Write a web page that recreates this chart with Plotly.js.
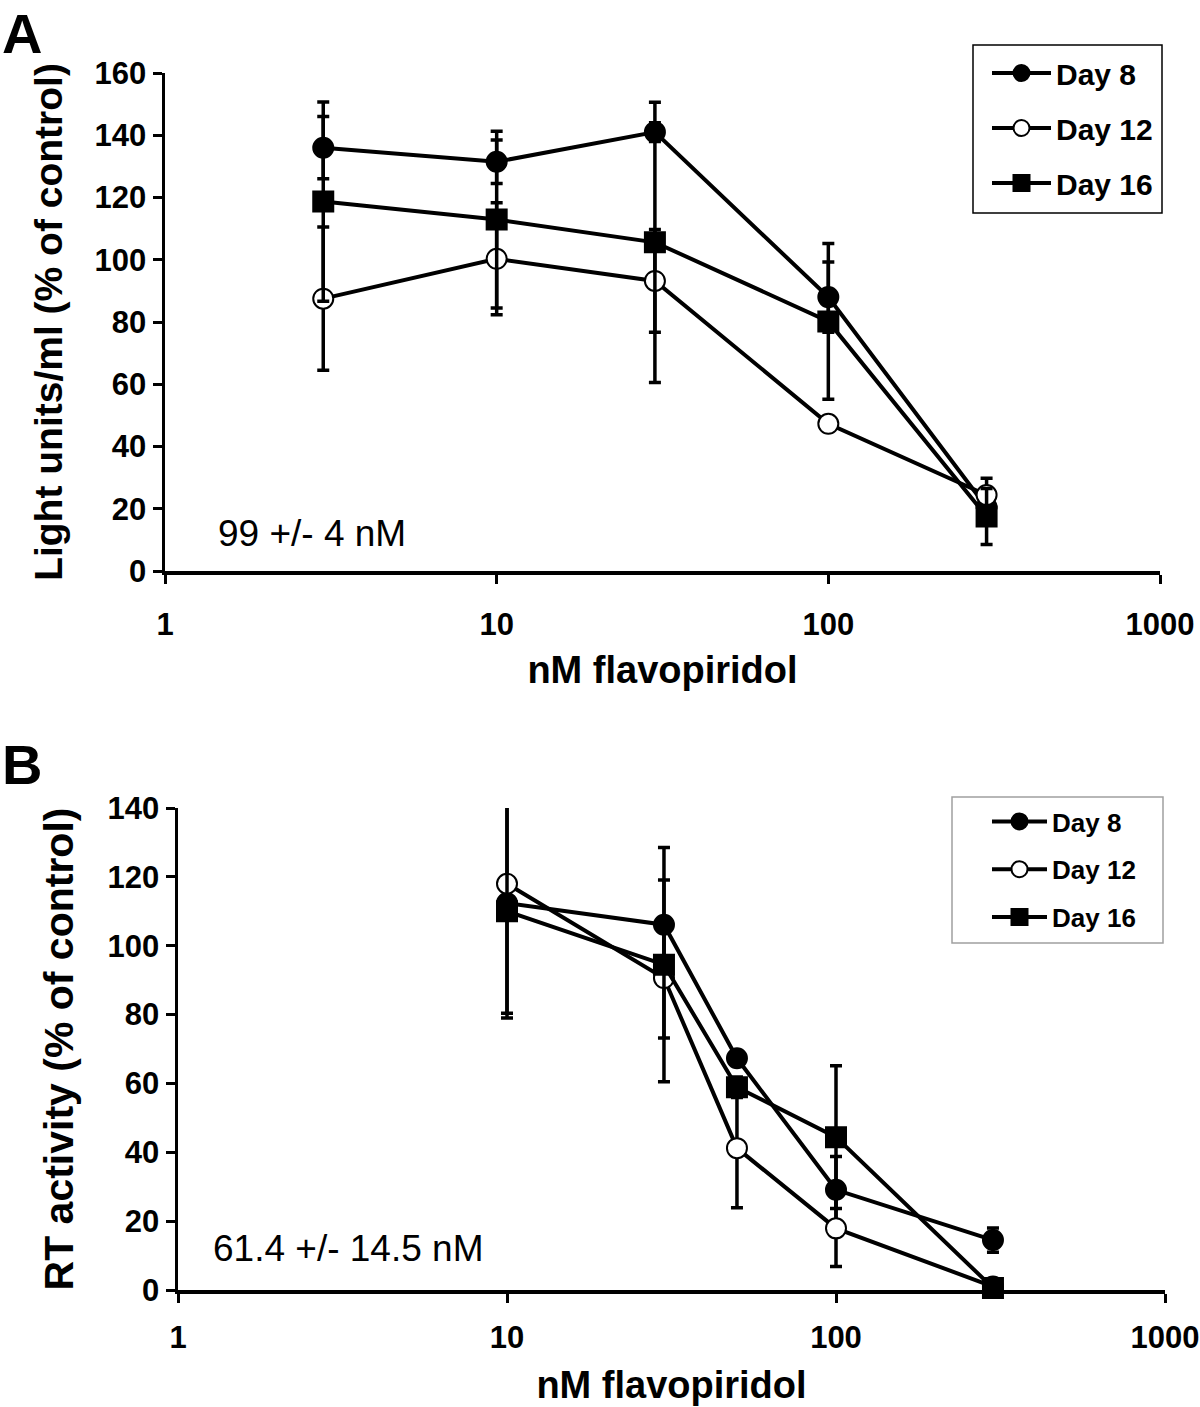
<!DOCTYPE html>
<html>
<head>
<meta charset="utf-8">
<script src="https://cdn.plot.ly/plotly-3.0.1.min.js"></script>
<style>html,body{margin:0;padding:0;background:#fff;}#chart{width:1200px;height:1407px;}</style>
</head>
<body>
<div id="chart"></div>
<script>
// ---------- Panel A: Light units/ml ----------
var doseA = [3, 10, 30, 100, 300];
var day8A = [136, 131.5, 141, 88, 20.5];
var day8AErr = [10, 7, 3, 11.3, 4];
var day12A = [87.5, 100.3, 93.2, 47.3, 24.4];
var day12AErr = [23, 18, 16.5, 2, 5.4];
var day16A = [118.7, 112.9, 105.6, 80.2, 17.5];
var day16AErr = [32, 28.4, 45, 25, 9];

// ---------- Panel B: RT activity ----------
var doseB = [10, 30, 50, 100, 300];
var day8B = [112.4, 106.1, 67.3, 29.1, 14.5];
var day8BErr = [32, 13, 2, 9.7, 3.5];
var day12B = [118, 90.6, 41.2, 17.9, 1];
var day12BErr = [2, 17.4, 17.3, 11.1, 0.5];
var day16B = [110, 94.5, 58.9, 44.4, 0.6];
var day16BErr = [31, 34, 3, 20.7, 0.5];

var seriesNames = ['Day 8', 'Day 12', 'Day 16'];
var xTickVals = [1, 10, 100, 1000];
var xTickText = ['1', '10', '100', '1000'];
var xTitle = 'nM flavopiridol';
var yTitleA = 'Light units/ml (% of control)';
var yTitleB = 'RT activity (% of control)';
var noteA = '99 +/- 4 nM';
var noteB = '61.4 +/- 14.5 nM';

var FONT = 'Liberation Sans, Arial, sans-serif';

function mk(sym, fill) {
  return {symbol: sym, size: 20, color: fill, line: {color: '#000', width: 2}};
}
var markerStyles = [mk('circle', '#000'), mk('circle', '#fff'), mk('square', '#000')];

function trace(x, y, err, i, xa, ya, leg, grp) {
  return {
    type: 'scatter', mode: 'lines+markers',
    x: x, y: y, name: seriesNames[i],
    xaxis: xa, yaxis: ya, legend: leg, legendgroup: grp + i,
    line: {color: '#000', width: 4},
    marker: markerStyles[i],
    error_y: {type: 'data', array: err, visible: true, color: '#000', thickness: 3.5, width: 6},
    cliponaxis: false
  };
}

var data = [
  trace(doseA, day8A, day8AErr, 0, 'x', 'y', 'legend', 'a'),
  trace(doseA, day12A, day12AErr, 1, 'x', 'y', 'legend', 'a'),
  trace(doseA, day16A, day16AErr, 2, 'x', 'y', 'legend', 'a'),
  trace(doseB, day8B, day8BErr, 0, 'x2', 'y2', 'legend2', 'b'),
  trace(doseB, day12B, day12BErr, 1, 'x2', 'y2', 'legend2', 'b'),
  trace(doseB, day16B, day16BErr, 2, 'x2', 'y2', 'legend2', 'b')
];

function xAxis(domain, anchor, lblGap, titleGap) {
  return {
    domain: domain, anchor: anchor, type: 'log', range: [0, 3],
    tickvals: xTickVals, ticktext: xTickText,
    showline: true, linecolor: '#000', linewidth: 4,
    ticks: 'outside', ticklen: 9, tickwidth: 3, tickcolor: '#000',
    showgrid: false, zeroline: false,
    tickfont: {family: FONT, size: 31, color: '#000', weight: 'bold'},
    ticklabelstandoff: lblGap,
    title: {text: xTitle, font: {family: FONT, size: 38, color: '#000', weight: 'bold'}, standoff: titleGap}
  };
}
function yAxis(domain, anchor, maxV, title, titleSize, titleGap) {
  return {
    domain: domain, anchor: anchor, range: [0, maxV], tick0: 0, dtick: 20,
    showline: true, linecolor: '#000', linewidth: 3.5,
    ticks: 'outside', ticklen: 9, tickwidth: 3, tickcolor: '#000',
    showgrid: false, zeroline: false,
    tickfont: {family: FONT, size: 31, color: '#000', weight: 'bold'},
    ticklabelstandoff: 0,
    title: {text: title, font: {family: FONT, size: titleSize, color: '#000', weight: 'bold'}, standoff: titleGap}
  };
}

var W = 1200, H = 1407;
var layout = {
  width: W, height: H,
  margin: {l: 0, r: 0, t: 0, b: 0},
  paper_bgcolor: '#fff', plot_bgcolor: 'rgba(0,0,0,0)',
  showlegend: true,
  xaxis: xAxis([165 / W, 1160 / W], 'y', 14, 16),
  yaxis: yAxis([1 - 571 / H, 1 - 73 / H], 'x', 160, yTitleA, 39, 21),
  xaxis2: xAxis([178 / W, 1165 / W], 'y2', 8, 18),
  yaxis2: yAxis([1 - 1290 / H, 1 - 808 / H], 'x2', 140, yTitleB, 41, 22),
  legend: {
    x: 987 / W, xanchor: 'left', y: 1 - 47 / H, yanchor: 'top',
    bgcolor: 'rgba(0,0,0,0)', borderwidth: 0,
    font: {family: FONT, size: 30, color: '#000', weight: 'bold'},
    itemwidth: 59, traceorder: 'grouped', tracegroupgap: 13
  },
  legend2: {
    x: 987 / W, xanchor: 'left', y: 1 - 798 / H, yanchor: 'top',
    bgcolor: 'rgba(0,0,0,0)', borderwidth: 0,
    font: {family: FONT, size: 26, color: '#000', weight: 'bold'},
    itemwidth: 55, traceorder: 'grouped', tracegroupgap: 11
  },
  shapes: [
    {type: 'rect', xref: 'paper', yref: 'paper', x0: 973 / W, x1: 1162 / W, y0: 1 - 213 / H, y1: 1 - 45 / H,
     line: {color: '#000', width: 1.5}, fillcolor: 'rgba(0,0,0,0)'},
    {type: 'rect', xref: 'paper', yref: 'paper', x0: 952 / W, x1: 1163 / W, y0: 1 - 943 / H, y1: 1 - 797 / H,
     line: {color: '#a0a0a0', width: 1.5}, fillcolor: 'rgba(0,0,0,0)'}
  ],
  annotations: [
    {text: 'A', xref: 'paper', yref: 'paper', x: 0, y: 1, showarrow: false,
     xanchor: 'left', yanchor: 'top', font: {family: FONT, size: 56, color: '#000', weight: 'bold'}},
    {text: 'B', xref: 'paper', yref: 'paper', x: 0, y: 1 - 731 / H, showarrow: false,
     xanchor: 'left', yanchor: 'top', font: {family: FONT, size: 56, color: '#000', weight: 'bold'}},
    {text: noteA, xref: 'paper', yref: 'paper', x: 312 / W, y: 1 - 533 / H, showarrow: false,
     xanchor: 'center', yanchor: 'middle', font: {family: FONT, size: 37, color: '#000'}},
    {text: noteB, xref: 'paper', yref: 'paper', x: 348 / W, y: 1 - 1248 / H, showarrow: false,
     xanchor: 'center', yanchor: 'middle', font: {family: FONT, size: 37, color: '#000'}}
  ]
};

Plotly.newPlot('chart', data, layout, {displayModeBar: false, staticPlot: true});
</script>
</body>
</html>
